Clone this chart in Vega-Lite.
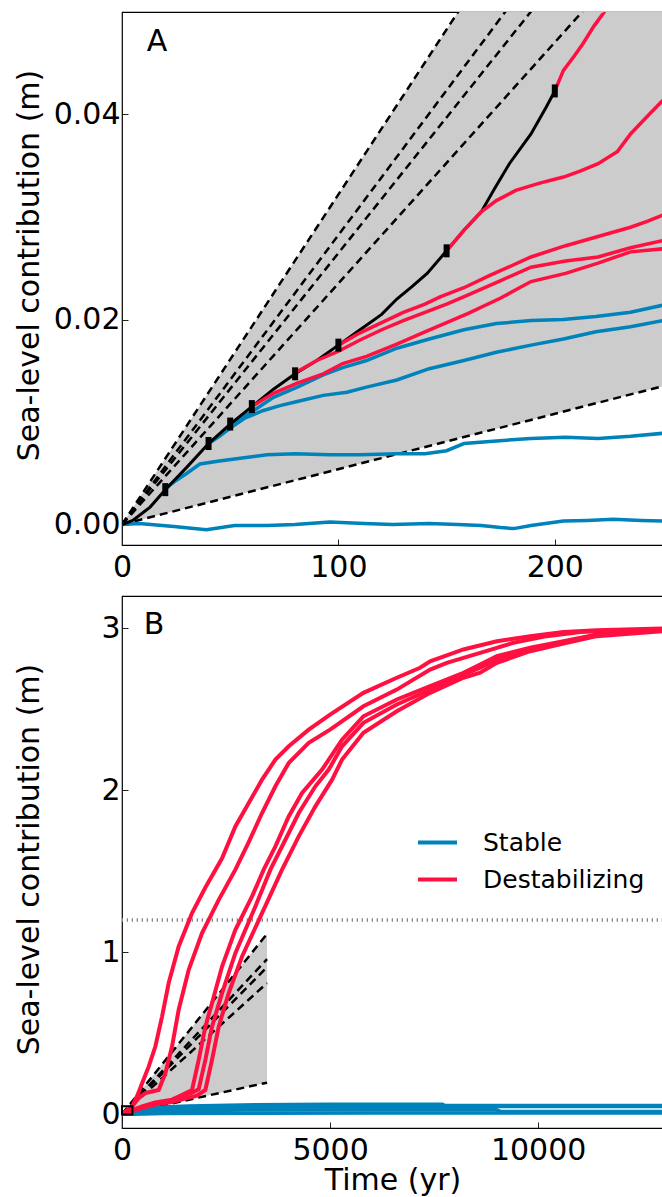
{
  "$schema": "https://vega.github.io/schema/vega-lite/v6.json",
  "padding": {"left": 13, "top": 11, "right": 0, "bottom": 40},
  "bounds": "flush",
  "spacing": 51,
  "resolve": {"scale": {"color": "independent"}},
  "config": {
    "font": "DejaVu Sans",
    "view": {"stroke": "black", "strokeWidth": 1.2},
    "axis": {
      "grid": false, "domain": false, "tickColor": "#222", "tickWidth": 1, "tickSize": 6, "offset": -6,
      "labelFontSize": 30, "labelColor": "black", "labelFlush": false,
      "titleFontSize": 30, "titleFontWeight": "normal", "titleColor": "black"
    },
    "axisX": {"labelPadding": 7.5},
    "axisY": {"labelPadding": 2},
    "legend": {"labelFont": "DejaVu Sans", "labelColor": "black", "labelLimit": 400}
  },
  "datasets": {
    "shadeA": [{"t": 0, "lo": 0, "hi": 0}, {"t": 250, "lo": 0.0135, "hi": 0.0805}],
    "dashA": [
      {"id": "d1", "t": 0, "v": 0}, {"id": "d1", "t": 250, "v": 0.0805},
      {"id": "d2", "t": 0, "v": 0}, {"id": "d2", "t": 250, "v": 0.0706},
      {"id": "d3", "t": 0, "v": 0}, {"id": "d3", "t": 250, "v": 0.0662},
      {"id": "d4", "t": 0, "v": 0}, {"id": "d4", "t": 250, "v": 0.0588},
      {"id": "d5", "t": 0, "v": 0}, {"id": "d5", "t": 250, "v": 0.0135}
    ],
    "blackA": [
      {"t": 0, "v": 0}, {"t": 5, "v": 0.0004}, {"t": 13, "v": 0.0017}, {"t": 20, "v": 0.0034},
      {"t": 30, "v": 0.0056}, {"t": 40, "v": 0.0079}, {"t": 50, "v": 0.0098}, {"t": 60, "v": 0.0115},
      {"t": 70, "v": 0.0132}, {"t": 80, "v": 0.0147}, {"t": 90, "v": 0.016}, {"t": 100, "v": 0.0175},
      {"t": 110, "v": 0.019}, {"t": 120, "v": 0.0205}, {"t": 127, "v": 0.022}, {"t": 134, "v": 0.0232},
      {"t": 141, "v": 0.0245}, {"t": 150, "v": 0.0267}, {"t": 158, "v": 0.0287}, {"t": 166, "v": 0.0305},
      {"t": 172, "v": 0.0327}, {"t": 179, "v": 0.0352}, {"t": 189, "v": 0.0381}, {"t": 196, "v": 0.0407},
      {"t": 200, "v": 0.0423}
    ],
    "markersA": [
      {"t": 20, "v": 0.0034}, {"t": 40, "v": 0.0079}, {"t": 50, "v": 0.0098}, {"t": 60, "v": 0.0115},
      {"t": 80, "v": 0.0147}, {"t": 100, "v": 0.0175}, {"t": 150, "v": 0.0267}, {"t": 200, "v": 0.0423}
    ],
    "stableA": [
      {"run": "s0", "type": "Stable", "t": 0, "v": 0}, {"run": "s0", "type": "Stable", "t": 8, "v": 0.0001},
      {"run": "s0", "type": "Stable", "t": 24, "v": -0.0002}, {"run": "s0", "type": "Stable", "t": 39, "v": -0.0005},
      {"run": "s0", "type": "Stable", "t": 52, "v": -0.0001}, {"run": "s0", "type": "Stable", "t": 67, "v": -0.0001},
      {"run": "s0", "type": "Stable", "t": 80, "v": 0.0}, {"run": "s0", "type": "Stable", "t": 96, "v": 0.00025},
      {"run": "s0", "type": "Stable", "t": 112, "v": 0.0001}, {"run": "s0", "type": "Stable", "t": 125, "v": 0.0},
      {"run": "s0", "type": "Stable", "t": 142, "v": 0.0001}, {"run": "s0", "type": "Stable", "t": 155, "v": 0.0},
      {"run": "s0", "type": "Stable", "t": 166, "v": -0.0001}, {"run": "s0", "type": "Stable", "t": 175, "v": -0.0003},
      {"run": "s0", "type": "Stable", "t": 181, "v": -0.0004}, {"run": "s0", "type": "Stable", "t": 189, "v": -0.0001},
      {"run": "s0", "type": "Stable", "t": 204, "v": 0.00035}, {"run": "s0", "type": "Stable", "t": 215, "v": 0.0004},
      {"run": "s0", "type": "Stable", "t": 227, "v": 0.0005}, {"run": "s0", "type": "Stable", "t": 240, "v": 0.0004},
      {"run": "s0", "type": "Stable", "t": 250, "v": 0.00035},
      {"run": "s20", "type": "Stable", "t": 20, "v": 0.0035}, {"run": "s20", "type": "Stable", "t": 25, "v": 0.0043},
      {"run": "s20", "type": "Stable", "t": 30, "v": 0.005}, {"run": "s20", "type": "Stable", "t": 36, "v": 0.0059},
      {"run": "s20", "type": "Stable", "t": 45, "v": 0.0062}, {"run": "s20", "type": "Stable", "t": 52, "v": 0.0064},
      {"run": "s20", "type": "Stable", "t": 60, "v": 0.0066}, {"run": "s20", "type": "Stable", "t": 67, "v": 0.0068},
      {"run": "s20", "type": "Stable", "t": 80, "v": 0.0069}, {"run": "s20", "type": "Stable", "t": 96, "v": 0.0068},
      {"run": "s20", "type": "Stable", "t": 110, "v": 0.0068}, {"run": "s20", "type": "Stable", "t": 127, "v": 0.0069},
      {"run": "s20", "type": "Stable", "t": 140, "v": 0.0069}, {"run": "s20", "type": "Stable", "t": 150, "v": 0.0072},
      {"run": "s20", "type": "Stable", "t": 158, "v": 0.0079}, {"run": "s20", "type": "Stable", "t": 170, "v": 0.0081},
      {"run": "s20", "type": "Stable", "t": 189, "v": 0.0084}, {"run": "s20", "type": "Stable", "t": 205, "v": 0.0085},
      {"run": "s20", "type": "Stable", "t": 220, "v": 0.0084}, {"run": "s20", "type": "Stable", "t": 235, "v": 0.0086},
      {"run": "s20", "type": "Stable", "t": 250, "v": 0.0089},
      {"run": "s40", "type": "Stable", "t": 40, "v": 0.0079}, {"run": "s40", "type": "Stable", "t": 45, "v": 0.0086},
      {"run": "s40", "type": "Stable", "t": 50, "v": 0.0094}, {"run": "s40", "type": "Stable", "t": 57, "v": 0.0104},
      {"run": "s40", "type": "Stable", "t": 65, "v": 0.0111}, {"run": "s40", "type": "Stable", "t": 73, "v": 0.0116},
      {"run": "s40", "type": "Stable", "t": 81, "v": 0.012}, {"run": "s40", "type": "Stable", "t": 93, "v": 0.0126},
      {"run": "s40", "type": "Stable", "t": 104, "v": 0.0129}, {"run": "s40", "type": "Stable", "t": 113, "v": 0.0134},
      {"run": "s40", "type": "Stable", "t": 127, "v": 0.0141}, {"run": "s40", "type": "Stable", "t": 142, "v": 0.0152},
      {"run": "s40", "type": "Stable", "t": 158, "v": 0.016}, {"run": "s40", "type": "Stable", "t": 173, "v": 0.0168},
      {"run": "s40", "type": "Stable", "t": 189, "v": 0.0175}, {"run": "s40", "type": "Stable", "t": 204, "v": 0.0181},
      {"run": "s40", "type": "Stable", "t": 219, "v": 0.0188}, {"run": "s40", "type": "Stable", "t": 235, "v": 0.0193},
      {"run": "s40", "type": "Stable", "t": 250, "v": 0.0199},
      {"run": "s50", "type": "Stable", "t": 50, "v": 0.0098}, {"run": "s50", "type": "Stable", "t": 55, "v": 0.0104},
      {"run": "s50", "type": "Stable", "t": 60, "v": 0.011}, {"run": "s50", "type": "Stable", "t": 70, "v": 0.0124},
      {"run": "s50", "type": "Stable", "t": 81, "v": 0.0134}, {"run": "s50", "type": "Stable", "t": 93, "v": 0.0146},
      {"run": "s50", "type": "Stable", "t": 102, "v": 0.0153}, {"run": "s50", "type": "Stable", "t": 113, "v": 0.016},
      {"run": "s50", "type": "Stable", "t": 127, "v": 0.0172}, {"run": "s50", "type": "Stable", "t": 142, "v": 0.0181},
      {"run": "s50", "type": "Stable", "t": 158, "v": 0.019}, {"run": "s50", "type": "Stable", "t": 173, "v": 0.0196},
      {"run": "s50", "type": "Stable", "t": 189, "v": 0.0199}, {"run": "s50", "type": "Stable", "t": 204, "v": 0.02},
      {"run": "s50", "type": "Stable", "t": 219, "v": 0.0203}, {"run": "s50", "type": "Stable", "t": 235, "v": 0.0207},
      {"run": "s50", "type": "Stable", "t": 250, "v": 0.0214}
    ],
    "destabA": [
      {"run": "r60", "type": "Destabilizing", "t": 60, "v": 0.0115}, {"run": "r60", "type": "Destabilizing", "t": 70, "v": 0.0128},
      {"run": "r60", "type": "Destabilizing", "t": 81, "v": 0.0138}, {"run": "r60", "type": "Destabilizing", "t": 93, "v": 0.0147},
      {"run": "r60", "type": "Destabilizing", "t": 102, "v": 0.0157}, {"run": "r60", "type": "Destabilizing", "t": 113, "v": 0.0164},
      {"run": "r60", "type": "Destabilizing", "t": 127, "v": 0.0176}, {"run": "r60", "type": "Destabilizing", "t": 140, "v": 0.0188},
      {"run": "r60", "type": "Destabilizing", "t": 150, "v": 0.0197}, {"run": "r60", "type": "Destabilizing", "t": 160, "v": 0.0206},
      {"run": "r60", "type": "Destabilizing", "t": 175, "v": 0.0221}, {"run": "r60", "type": "Destabilizing", "t": 189, "v": 0.0237},
      {"run": "r60", "type": "Destabilizing", "t": 205, "v": 0.0245}, {"run": "r60", "type": "Destabilizing", "t": 220, "v": 0.0255},
      {"run": "r60", "type": "Destabilizing", "t": 235, "v": 0.0266}, {"run": "r60", "type": "Destabilizing", "t": 250, "v": 0.0269},
      {"run": "r80", "type": "Destabilizing", "t": 80, "v": 0.0148}, {"run": "r80", "type": "Destabilizing", "t": 90, "v": 0.016},
      {"run": "r80", "type": "Destabilizing", "t": 100, "v": 0.0169}, {"run": "r80", "type": "Destabilizing", "t": 110, "v": 0.018},
      {"run": "r80", "type": "Destabilizing", "t": 120, "v": 0.019}, {"run": "r80", "type": "Destabilizing", "t": 130, "v": 0.0199},
      {"run": "r80", "type": "Destabilizing", "t": 140, "v": 0.0207}, {"run": "r80", "type": "Destabilizing", "t": 150, "v": 0.0215},
      {"run": "r80", "type": "Destabilizing", "t": 160, "v": 0.0224}, {"run": "r80", "type": "Destabilizing", "t": 175, "v": 0.0238},
      {"run": "r80", "type": "Destabilizing", "t": 189, "v": 0.0251}, {"run": "r80", "type": "Destabilizing", "t": 205, "v": 0.0257},
      {"run": "r80", "type": "Destabilizing", "t": 220, "v": 0.0261}, {"run": "r80", "type": "Destabilizing", "t": 235, "v": 0.027},
      {"run": "r80", "type": "Destabilizing", "t": 250, "v": 0.0277},
      {"run": "r100", "type": "Destabilizing", "t": 100, "v": 0.0175}, {"run": "r100", "type": "Destabilizing", "t": 110, "v": 0.0187},
      {"run": "r100", "type": "Destabilizing", "t": 120, "v": 0.0197}, {"run": "r100", "type": "Destabilizing", "t": 130, "v": 0.0207},
      {"run": "r100", "type": "Destabilizing", "t": 140, "v": 0.0215}, {"run": "r100", "type": "Destabilizing", "t": 147, "v": 0.0222},
      {"run": "r100", "type": "Destabilizing", "t": 158, "v": 0.0231}, {"run": "r100", "type": "Destabilizing", "t": 170, "v": 0.0243},
      {"run": "r100", "type": "Destabilizing", "t": 189, "v": 0.0261}, {"run": "r100", "type": "Destabilizing", "t": 205, "v": 0.0272},
      {"run": "r100", "type": "Destabilizing", "t": 220, "v": 0.0281}, {"run": "r100", "type": "Destabilizing", "t": 235, "v": 0.029},
      {"run": "r100", "type": "Destabilizing", "t": 243, "v": 0.0296}, {"run": "r100", "type": "Destabilizing", "t": 250, "v": 0.0302},
      {"run": "r150", "type": "Destabilizing", "t": 150, "v": 0.0267}, {"run": "r150", "type": "Destabilizing", "t": 158, "v": 0.0287},
      {"run": "r150", "type": "Destabilizing", "t": 166, "v": 0.0305}, {"run": "r150", "type": "Destabilizing", "t": 173, "v": 0.0316},
      {"run": "r150", "type": "Destabilizing", "t": 182, "v": 0.0326}, {"run": "r150", "type": "Destabilizing", "t": 193, "v": 0.0333},
      {"run": "r150", "type": "Destabilizing", "t": 204, "v": 0.0339}, {"run": "r150", "type": "Destabilizing", "t": 212, "v": 0.0345},
      {"run": "r150", "type": "Destabilizing", "t": 220, "v": 0.0352}, {"run": "r150", "type": "Destabilizing", "t": 229, "v": 0.0364},
      {"run": "r150", "type": "Destabilizing", "t": 235, "v": 0.0381}, {"run": "r150", "type": "Destabilizing", "t": 244, "v": 0.0401},
      {"run": "r150", "type": "Destabilizing", "t": 250, "v": 0.0414},
      {"run": "r200", "type": "Destabilizing", "t": 200, "v": 0.0423}, {"run": "r200", "type": "Destabilizing", "t": 204, "v": 0.0443},
      {"run": "r200", "type": "Destabilizing", "t": 209, "v": 0.0457}, {"run": "r200", "type": "Destabilizing", "t": 213, "v": 0.0469},
      {"run": "r200", "type": "Destabilizing", "t": 218, "v": 0.0486}, {"run": "r200", "type": "Destabilizing", "t": 222.5, "v": 0.0499},
      {"run": "r200", "type": "Destabilizing", "t": 230, "v": 0.0525}
    ],
    "shadeB": [{"t": 0, "lo": 0, "hi": 0}, {"t": 3486, "lo": 0.195, "hi": 1.114}],
    "dashB": [
      {"id": "d1", "t": 0, "v": 0}, {"id": "d1", "t": 3486, "v": 1.114},
      {"id": "d2", "t": 0, "v": 0}, {"id": "d2", "t": 3486, "v": 0.958},
      {"id": "d3", "t": 0, "v": 0}, {"id": "d3", "t": 3486, "v": 0.908},
      {"id": "d4", "t": 0, "v": 0}, {"id": "d4", "t": 3486, "v": 0.81},
      {"id": "d5", "t": 0, "v": 0}, {"id": "d5", "t": 3486, "v": 0.195}
    ],
    "stableB": [
      {"run": "s0", "type": "Stable", "t": 0, "v": 0}, {"run": "s0", "type": "Stable", "t": 250, "v": 0.0004},
      {"run": "s0", "type": "Stable", "t": 1000, "v": 0.004}, {"run": "s0", "type": "Stable", "t": 3000, "v": 0.006},
      {"run": "s0", "type": "Stable", "t": 6000, "v": 0.007}, {"run": "s0", "type": "Stable", "t": 9000, "v": 0.008},
      {"run": "s0", "type": "Stable", "t": 13000, "v": 0.008},
      {"run": "s20", "type": "Stable", "t": 0, "v": 0}, {"run": "s20", "type": "Stable", "t": 250, "v": 0.009},
      {"run": "s20", "type": "Stable", "t": 1000, "v": 0.02}, {"run": "s20", "type": "Stable", "t": 3000, "v": 0.026},
      {"run": "s20", "type": "Stable", "t": 6000, "v": 0.028}, {"run": "s20", "type": "Stable", "t": 9000, "v": 0.027},
      {"run": "s20", "type": "Stable", "t": 9100, "v": 0.017}, {"run": "s20", "type": "Stable", "t": 13000, "v": 0.017},
      {"run": "s40", "type": "Stable", "t": 0, "v": 0}, {"run": "s40", "type": "Stable", "t": 250, "v": 0.02},
      {"run": "s40", "type": "Stable", "t": 1000, "v": 0.036}, {"run": "s40", "type": "Stable", "t": 3000, "v": 0.043},
      {"run": "s40", "type": "Stable", "t": 6000, "v": 0.046}, {"run": "s40", "type": "Stable", "t": 9000, "v": 0.047},
      {"run": "s40", "type": "Stable", "t": 13000, "v": 0.047},
      {"run": "s50", "type": "Stable", "t": 0, "v": 0}, {"run": "s50", "type": "Stable", "t": 250, "v": 0.021},
      {"run": "s50", "type": "Stable", "t": 1000, "v": 0.045}, {"run": "s50", "type": "Stable", "t": 1600, "v": 0.051},
      {"run": "s50", "type": "Stable", "t": 3200, "v": 0.059}, {"run": "s50", "type": "Stable", "t": 5000, "v": 0.061},
      {"run": "s50", "type": "Stable", "t": 7700, "v": 0.062}, {"run": "s50", "type": "Stable", "t": 7760, "v": 0.054},
      {"run": "s50", "type": "Stable", "t": 13000, "v": 0.054}
    ],
    "destabB": [
      {"run": "L1", "type": "Destabilizing", "t": 0, "v": 0}, {"run": "L1", "type": "Destabilizing", "t": 120, "v": 0.02},
      {"run": "L1", "type": "Destabilizing", "t": 240, "v": 0.047}, {"run": "L1", "type": "Destabilizing", "t": 360, "v": 0.11},
      {"run": "L1", "type": "Destabilizing", "t": 481, "v": 0.19}, {"run": "L1", "type": "Destabilizing", "t": 641, "v": 0.294},
      {"run": "L1", "type": "Destabilizing", "t": 801, "v": 0.418}, {"run": "L1", "type": "Destabilizing", "t": 962, "v": 0.603},
      {"run": "L1", "type": "Destabilizing", "t": 1122, "v": 0.81}, {"run": "L1", "type": "Destabilizing", "t": 1362, "v": 1.036},
      {"run": "L1", "type": "Destabilizing", "t": 1683, "v": 1.242}, {"run": "L1", "type": "Destabilizing", "t": 2003, "v": 1.4},
      {"run": "L1", "type": "Destabilizing", "t": 2404, "v": 1.58}, {"run": "L1", "type": "Destabilizing", "t": 2724, "v": 1.777},
      {"run": "L1", "type": "Destabilizing", "t": 3045, "v": 1.922}, {"run": "L1", "type": "Destabilizing", "t": 3365, "v": 2.066},
      {"run": "L1", "type": "Destabilizing", "t": 3686, "v": 2.19}, {"run": "L1", "type": "Destabilizing", "t": 4006, "v": 2.272},
      {"run": "L1", "type": "Destabilizing", "t": 4487, "v": 2.375}, {"run": "L1", "type": "Destabilizing", "t": 5000, "v": 2.468},
      {"run": "L1", "type": "Destabilizing", "t": 5801, "v": 2.602}, {"run": "L1", "type": "Destabilizing", "t": 6603, "v": 2.695},
      {"run": "L1", "type": "Destabilizing", "t": 7163, "v": 2.757}, {"run": "L1", "type": "Destabilizing", "t": 7404, "v": 2.797},
      {"run": "L1", "type": "Destabilizing", "t": 8204, "v": 2.87}, {"run": "L1", "type": "Destabilizing", "t": 9007, "v": 2.921},
      {"run": "L1", "type": "Destabilizing", "t": 9808, "v": 2.952}, {"run": "L1", "type": "Destabilizing", "t": 10608, "v": 2.977},
      {"run": "L1", "type": "Destabilizing", "t": 11411, "v": 2.989}, {"run": "L1", "type": "Destabilizing", "t": 13000, "v": 2.999},
      {"run": "L2", "type": "Destabilizing", "t": 0, "v": 0}, {"run": "L2", "type": "Destabilizing", "t": 250, "v": 0.05},
      {"run": "L2", "type": "Destabilizing", "t": 400, "v": 0.1}, {"run": "L2", "type": "Destabilizing", "t": 561, "v": 0.13},
      {"run": "L2", "type": "Destabilizing", "t": 720, "v": 0.14}, {"run": "L2", "type": "Destabilizing", "t": 881, "v": 0.15},
      {"run": "L2", "type": "Destabilizing", "t": 1041, "v": 0.253}, {"run": "L2", "type": "Destabilizing", "t": 1202, "v": 0.418},
      {"run": "L2", "type": "Destabilizing", "t": 1362, "v": 0.645}, {"run": "L2", "type": "Destabilizing", "t": 1603, "v": 0.892},
      {"run": "L2", "type": "Destabilizing", "t": 1923, "v": 1.119}, {"run": "L2", "type": "Destabilizing", "t": 2324, "v": 1.324},
      {"run": "L2", "type": "Destabilizing", "t": 2724, "v": 1.51}, {"run": "L2", "type": "Destabilizing", "t": 3045, "v": 1.68},
      {"run": "L2", "type": "Destabilizing", "t": 3365, "v": 1.86}, {"run": "L2", "type": "Destabilizing", "t": 3686, "v": 2.025},
      {"run": "L2", "type": "Destabilizing", "t": 4006, "v": 2.169}, {"run": "L2", "type": "Destabilizing", "t": 4487, "v": 2.293},
      {"run": "L2", "type": "Destabilizing", "t": 5000, "v": 2.375}, {"run": "L2", "type": "Destabilizing", "t": 5801, "v": 2.519},
      {"run": "L2", "type": "Destabilizing", "t": 6603, "v": 2.622}, {"run": "L2", "type": "Destabilizing", "t": 7404, "v": 2.746},
      {"run": "L2", "type": "Destabilizing", "t": 7805, "v": 2.787}, {"run": "L2", "type": "Destabilizing", "t": 8606, "v": 2.849},
      {"run": "L2", "type": "Destabilizing", "t": 9406, "v": 2.911}, {"run": "L2", "type": "Destabilizing", "t": 10208, "v": 2.952},
      {"run": "L2", "type": "Destabilizing", "t": 11010, "v": 2.977}, {"run": "L2", "type": "Destabilizing", "t": 12000, "v": 2.988},
      {"run": "L2", "type": "Destabilizing", "t": 13000, "v": 2.993},
      {"run": "L3", "type": "Destabilizing", "t": 0, "v": 0}, {"run": "L3", "type": "Destabilizing", "t": 250, "v": 0.025},
      {"run": "L3", "type": "Destabilizing", "t": 500, "v": 0.05}, {"run": "L3", "type": "Destabilizing", "t": 800, "v": 0.072},
      {"run": "L3", "type": "Destabilizing", "t": 1200, "v": 0.09}, {"run": "L3", "type": "Destabilizing", "t": 1450, "v": 0.12},
      {"run": "L3", "type": "Destabilizing", "t": 1683, "v": 0.15}, {"run": "L3", "type": "Destabilizing", "t": 1843, "v": 0.336},
      {"run": "L3", "type": "Destabilizing", "t": 2003, "v": 0.541}, {"run": "L3", "type": "Destabilizing", "t": 2163, "v": 0.686},
      {"run": "L3", "type": "Destabilizing", "t": 2404, "v": 0.912}, {"run": "L3", "type": "Destabilizing", "t": 2724, "v": 1.139},
      {"run": "L3", "type": "Destabilizing", "t": 3125, "v": 1.345}, {"run": "L3", "type": "Destabilizing", "t": 3405, "v": 1.51},
      {"run": "L3", "type": "Destabilizing", "t": 3686, "v": 1.654}, {"run": "L3", "type": "Destabilizing", "t": 4006, "v": 1.839},
      {"run": "L3", "type": "Destabilizing", "t": 4327, "v": 1.984}, {"run": "L3", "type": "Destabilizing", "t": 4808, "v": 2.128},
      {"run": "L3", "type": "Destabilizing", "t": 5288, "v": 2.313}, {"run": "L3", "type": "Destabilizing", "t": 5801, "v": 2.457},
      {"run": "L3", "type": "Destabilizing", "t": 6603, "v": 2.561}, {"run": "L3", "type": "Destabilizing", "t": 7404, "v": 2.643},
      {"run": "L3", "type": "Destabilizing", "t": 8205, "v": 2.726}, {"run": "L3", "type": "Destabilizing", "t": 8606, "v": 2.777},
      {"run": "L3", "type": "Destabilizing", "t": 9007, "v": 2.828}, {"run": "L3", "type": "Destabilizing", "t": 9808, "v": 2.88},
      {"run": "L3", "type": "Destabilizing", "t": 10608, "v": 2.921}, {"run": "L3", "type": "Destabilizing", "t": 11411, "v": 2.962},
      {"run": "L3", "type": "Destabilizing", "t": 13000, "v": 2.993},
      {"run": "L4", "type": "Destabilizing", "t": 0, "v": 0}, {"run": "L4", "type": "Destabilizing", "t": 250, "v": 0.022},
      {"run": "L4", "type": "Destabilizing", "t": 500, "v": 0.045}, {"run": "L4", "type": "Destabilizing", "t": 800, "v": 0.068},
      {"run": "L4", "type": "Destabilizing", "t": 1200, "v": 0.083}, {"run": "L4", "type": "Destabilizing", "t": 1450, "v": 0.11},
      {"run": "L4", "type": "Destabilizing", "t": 1700, "v": 0.135}, {"run": "L4", "type": "Destabilizing", "t": 1843, "v": 0.155},
      {"run": "L4", "type": "Destabilizing", "t": 2003, "v": 0.336}, {"run": "L4", "type": "Destabilizing", "t": 2163, "v": 0.541},
      {"run": "L4", "type": "Destabilizing", "t": 2404, "v": 0.748}, {"run": "L4", "type": "Destabilizing", "t": 2724, "v": 0.995},
      {"run": "L4", "type": "Destabilizing", "t": 3205, "v": 1.283}, {"run": "L4", "type": "Destabilizing", "t": 3566, "v": 1.51},
      {"run": "L4", "type": "Destabilizing", "t": 3926, "v": 1.695}, {"run": "L4", "type": "Destabilizing", "t": 4247, "v": 1.86},
      {"run": "L4", "type": "Destabilizing", "t": 4647, "v": 2.025}, {"run": "L4", "type": "Destabilizing", "t": 4968, "v": 2.128},
      {"run": "L4", "type": "Destabilizing", "t": 5288, "v": 2.272}, {"run": "L4", "type": "Destabilizing", "t": 5801, "v": 2.417},
      {"run": "L4", "type": "Destabilizing", "t": 6603, "v": 2.53}, {"run": "L4", "type": "Destabilizing", "t": 7404, "v": 2.622},
      {"run": "L4", "type": "Destabilizing", "t": 8205, "v": 2.715}, {"run": "L4", "type": "Destabilizing", "t": 8606, "v": 2.757},
      {"run": "L4", "type": "Destabilizing", "t": 9007, "v": 2.808}, {"run": "L4", "type": "Destabilizing", "t": 9808, "v": 2.87},
      {"run": "L4", "type": "Destabilizing", "t": 10608, "v": 2.911}, {"run": "L4", "type": "Destabilizing", "t": 11411, "v": 2.956},
      {"run": "L4", "type": "Destabilizing", "t": 13000, "v": 2.989},
      {"run": "L5", "type": "Destabilizing", "t": 0, "v": 0}, {"run": "L5", "type": "Destabilizing", "t": 250, "v": 0.02},
      {"run": "L5", "type": "Destabilizing", "t": 500, "v": 0.04}, {"run": "L5", "type": "Destabilizing", "t": 800, "v": 0.06},
      {"run": "L5", "type": "Destabilizing", "t": 1200, "v": 0.075}, {"run": "L5", "type": "Destabilizing", "t": 1500, "v": 0.095},
      {"run": "L5", "type": "Destabilizing", "t": 1800, "v": 0.115}, {"run": "L5", "type": "Destabilizing", "t": 2003, "v": 0.15},
      {"run": "L5", "type": "Destabilizing", "t": 2163, "v": 0.336}, {"run": "L5", "type": "Destabilizing", "t": 2324, "v": 0.541},
      {"run": "L5", "type": "Destabilizing", "t": 2564, "v": 0.748}, {"run": "L5", "type": "Destabilizing", "t": 2885, "v": 0.974},
      {"run": "L5", "type": "Destabilizing", "t": 3365, "v": 1.242}, {"run": "L5", "type": "Destabilizing", "t": 3846, "v": 1.51},
      {"run": "L5", "type": "Destabilizing", "t": 4247, "v": 1.716}, {"run": "L5", "type": "Destabilizing", "t": 4647, "v": 1.901},
      {"run": "L5", "type": "Destabilizing", "t": 5048, "v": 2.066}, {"run": "L5", "type": "Destabilizing", "t": 5288, "v": 2.19},
      {"run": "L5", "type": "Destabilizing", "t": 5801, "v": 2.355}, {"run": "L5", "type": "Destabilizing", "t": 6603, "v": 2.488},
      {"run": "L5", "type": "Destabilizing", "t": 7404, "v": 2.602}, {"run": "L5", "type": "Destabilizing", "t": 8205, "v": 2.695},
      {"run": "L5", "type": "Destabilizing", "t": 8606, "v": 2.726}, {"run": "L5", "type": "Destabilizing", "t": 9007, "v": 2.787},
      {"run": "L5", "type": "Destabilizing", "t": 9808, "v": 2.859}, {"run": "L5", "type": "Destabilizing", "t": 10608, "v": 2.907},
      {"run": "L5", "type": "Destabilizing", "t": 11411, "v": 2.952}, {"run": "L5", "type": "Destabilizing", "t": 13000, "v": 2.983}
    ]
  },
  "vconcat": [
    {
      "width": 541,
      "height": 533,
      "layer": [
        {
          "data": {"name": "shadeA"},
          "mark": {"type": "area", "color": "#cccccc", "clip": true},
          "encoding": {
            "x": {"field": "t", "type": "quantitative", "scale": {"domain": [0, 250], "nice": false, "zero": false},
                  "axis": {"values": [0, 100, 200], "format": "d", "title": null, "offset": -6}},
            "y": {"field": "lo", "type": "quantitative", "scale": {"domain": [-0.002, 0.05], "nice": false, "zero": false},
                  "axis": {"values": [0, 0.02, 0.04], "format": ".2f", "title": "Sea-level contribution (m)", "offset": -6,
                           "minExtent": 74, "maxExtent": 74, "titlePadding": 10, "titleY": 253}},
            "y2": {"field": "hi"}
          }
        },
        {
          "data": {"name": "dashA"},
          "mark": {"type": "line", "color": "black", "strokeWidth": 2.5, "strokeDash": [8, 5], "clip": true},
          "encoding": {
            "x": {"field": "t", "type": "quantitative"},
            "y": {"field": "v", "type": "quantitative"},
            "detail": {"field": "id"}
          }
        },
        {
          "data": {"name": "stableA"},
          "mark": {"type": "line", "strokeWidth": 3.5, "clip": true},
          "encoding": {
            "x": {"field": "t", "type": "quantitative"},
            "y": {"field": "v", "type": "quantitative"},
            "color": {"field": "type", "type": "nominal", "scale": {"domain": ["Stable", "Destabilizing"], "range": ["#0082ba", "#ff1040"]}, "legend": null},
            "detail": {"field": "run"}
          }
        },
        {
          "data": {"name": "blackA"},
          "mark": {"type": "line", "color": "black", "strokeWidth": 3, "clip": true},
          "encoding": {
            "x": {"field": "t", "type": "quantitative"},
            "y": {"field": "v", "type": "quantitative"}
          }
        },
        {
          "data": {"name": "destabA"},
          "mark": {"type": "line", "strokeWidth": 3.5, "clip": true},
          "encoding": {
            "x": {"field": "t", "type": "quantitative"},
            "y": {"field": "v", "type": "quantitative"},
            "color": {"field": "type", "type": "nominal", "scale": {"domain": ["Stable", "Destabilizing"], "range": ["#0082ba", "#ff1040"]}, "legend": null},
            "detail": {"field": "run"}
          }
        },
        {
          "data": {"name": "markersA"},
          "mark": {"type": "tick", "orient": "vertical", "color": "black", "thickness": 6, "size": 13, "opacity": 1},
          "encoding": {
            "x": {"field": "t", "type": "quantitative"},
            "y": {"field": "v", "type": "quantitative"}
          }
        },
        {
          "data": {"values": [{}]},
          "mark": {"type": "text", "text": "A", "fontSize": 30, "align": "left", "baseline": "alphabetic", "color": "black"},
          "encoding": {
            "x": {"datum": 11.4, "type": "quantitative"},
            "y": {"datum": 0.0462, "type": "quantitative"}
          }
        }
      ]
    },
    {
      "width": 541,
      "height": 532,
      "layer": [
        {
          "data": {"name": "shadeB"},
          "mark": {"type": "area", "color": "#cccccc", "clip": true},
          "encoding": {
            "x": {"field": "t", "type": "quantitative", "scale": {"domain": [0, 13000], "nice": false, "zero": false},
                  "axis": {"values": [0, 5000, 10000], "format": "d", "title": "Time (yr)", "titlePadding": 0, "offset": -6}},
            "y": {"field": "lo", "type": "quantitative", "scale": {"domain": [-0.085, 3.2], "nice": false, "zero": false},
                  "axis": {"values": [0, 1, 2, 3], "format": "d", "title": "Sea-level contribution (m)", "offset": -6,
                           "minExtent": 74, "maxExtent": 74, "titlePadding": 10, "titleY": 263}},
            "y2": {"field": "hi"}
          }
        },
        {
          "data": {"name": "dashB"},
          "mark": {"type": "line", "color": "black", "strokeWidth": 2.5, "strokeDash": [8, 5], "clip": true},
          "encoding": {
            "x": {"field": "t", "type": "quantitative"},
            "y": {"field": "v", "type": "quantitative"},
            "detail": {"field": "id"}
          }
        },
        {
          "data": {"values": [{}]},
          "mark": {"type": "rule", "color": "#888888", "strokeWidth": 3.5, "strokeDash": [1.3, 3.7]},
          "encoding": {
            "y": {"datum": 1.2, "type": "quantitative"}
          }
        },
        {
          "data": {"name": "stableB"},
          "mark": {"type": "line", "strokeWidth": 3.5, "clip": true},
          "encoding": {
            "x": {"field": "t", "type": "quantitative"},
            "y": {"field": "v", "type": "quantitative"},
            "color": {"field": "type", "type": "nominal", "scale": {"domain": ["Stable", "Destabilizing"], "range": ["#0082ba", "#ff1040"]},
                      "legend": {"orient": "none", "legendX": 294, "legendY": 225, "title": null, "labelFontSize": 25,
                                 "symbolType": "stroke", "symbolSize": 1521, "symbolStrokeWidth": 4, "labelOffset": 24,
                                 "rowPadding": 2, "padding": 0, "labelLimit": 400}},
            "detail": {"field": "run"}
          }
        },
        {
          "data": {"name": "destabB"},
          "mark": {"type": "line", "strokeWidth": 4, "clip": true},
          "encoding": {
            "x": {"field": "t", "type": "quantitative"},
            "y": {"field": "v", "type": "quantitative"},
            "color": {"field": "type", "type": "nominal", "scale": {"domain": ["Stable", "Destabilizing"], "range": ["#0082ba", "#ff1040"]},
                      "legend": {"orient": "none", "legendX": 294, "legendY": 225, "title": null, "labelFontSize": 25,
                                 "symbolType": "stroke", "symbolSize": 1521, "symbolStrokeWidth": 4, "labelOffset": 24,
                                 "rowPadding": 2, "padding": 0, "labelLimit": 400}},
            "detail": {"field": "run"}
          }
        },
        {
          "data": {"values": [{}]},
          "mark": {"type": "rect", "fillOpacity": 0, "stroke": "black", "strokeWidth": 2},
          "encoding": {
            "x": {"datum": 0, "type": "quantitative"},
            "x2": {"datum": 250},
            "y": {"datum": -0.002, "type": "quantitative"},
            "y2": {"datum": 0.05}
          }
        },
        {
          "data": {"values": [{}]},
          "mark": {"type": "text", "text": "B", "fontSize": 30, "align": "left", "baseline": "alphabetic", "color": "black"},
          "encoding": {
            "x": {"datum": 521, "type": "quantitative"},
            "y": {"datum": 2.963, "type": "quantitative"}
          }
        }
      ]
    }
  ]
}
